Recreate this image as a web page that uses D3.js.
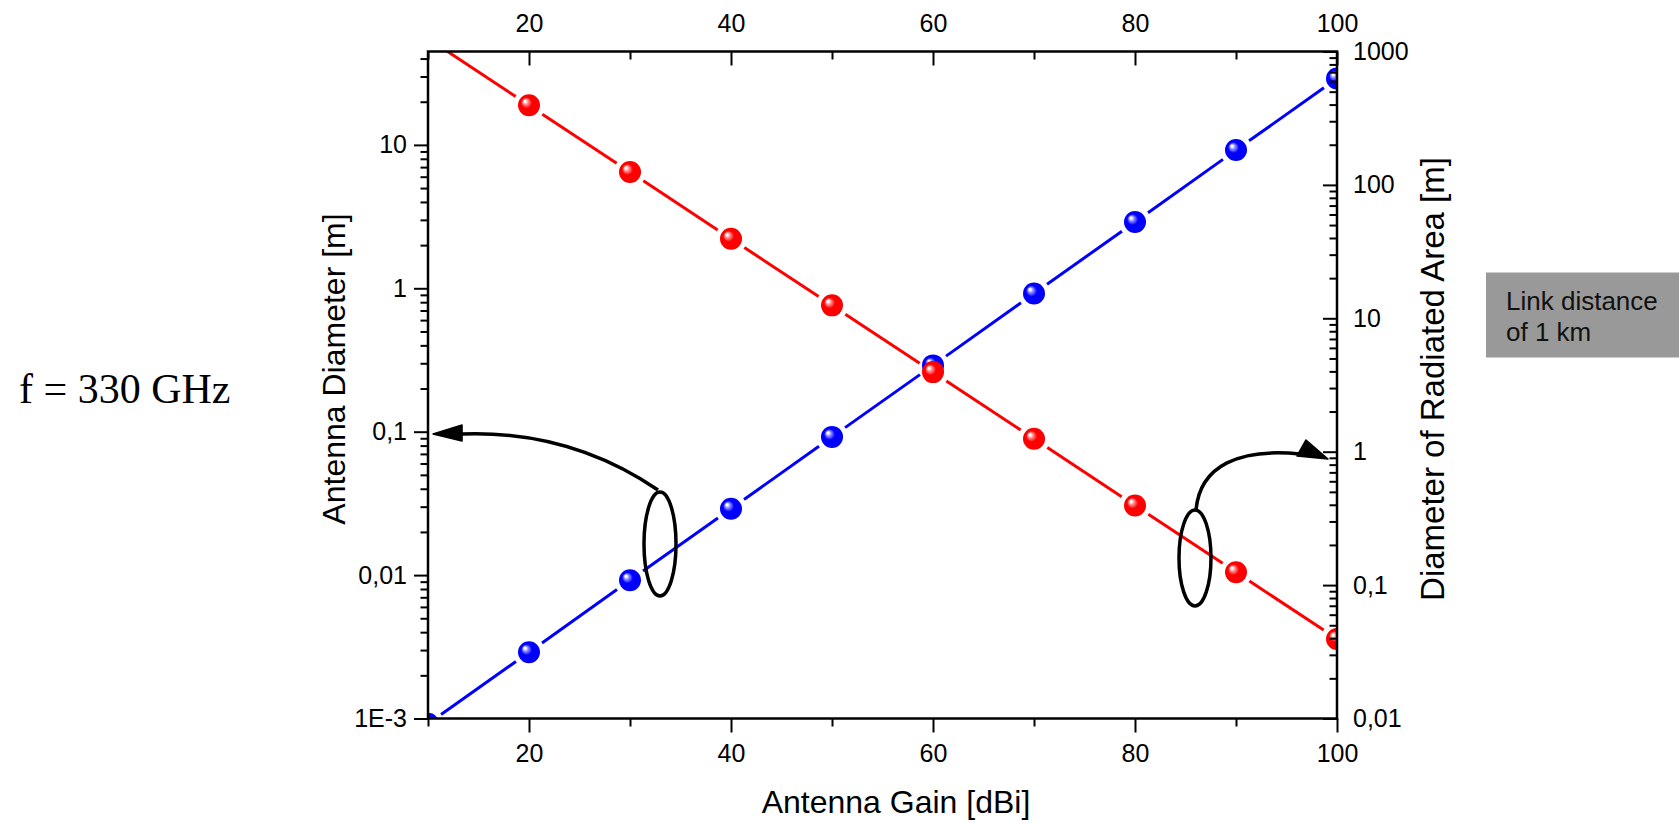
<!DOCTYPE html>
<html>
<head>
<meta charset="utf-8">
<script src="https://cdn.jsdelivr.net/npm/d3@7"></script>
<style>
  html, body { margin: 0; padding: 0; background: #fff; }
  svg { display: block; }
</style>
</head>
<body>
<svg id="chart" width="1679" height="824"></svg>
<script>
// ---------------- data ----------------
const gain = [10, 20, 30, 40, 50, 60, 70, 80, 90, 100];                    // Antenna Gain [dBi]
const antennaDiameter = [0.00092, 0.0029, 0.0092, 0.029, 0.092, 0.29, 0.92, 2.9, 9.2, 29];   // left axis [m]
const radiatedDiameter = [1250, 395, 125, 39.5, 12.5, 3.95, 1.25, 0.395, 0.125, 0.0395];     // right axis [m]

const xMajorTicks = [20, 40, 60, 80, 100];
const xMinorTicks = [10, 30, 50, 70, 90];
const leftMajorTicks = [0.001, 0.01, 0.1, 1, 10];
const leftTickLabels = ["1E-3", "0,01", "0,1", "1", "10"];
const rightMajorTicks = [0.01, 0.1, 1, 10, 100, 1000];
const rightTickLabels = ["0,01", "0,1", "1", "10", "100", "1000"];

const xTitle = "Antenna Gain [dBi]";
const leftTitle = "Antenna Diameter [m]";
const rightTitle = "Diameter of Radiated Area [m]";
const freqLabel = "f = 330 GHz";
const boxLines = ["Link distance", "of 1 km"];

// annotation anchors (data units)
const leftEllipse = { g: 32.97, v: 0.01647 };
const leftArrowCurve = [[32.77, 0.0392], [24.06, 0.1027], [13.37, 0.0964]];
const leftArrowHead = [[10.5, 0.0964], [13.37, 0.1113], [13.37, 0.0861]];
const rightEllipse = { g: 85.94, v: 0.1597 };
const rightArrowCurve = [[86.04, 0.3656], [86.44, 0.795], [90.40, 1.066], [96.34, 0.961]];
const rightArrowHead = [[99.11, 0.8816], [96.93, 1.224], [96.04, 0.9286]];

// ---------------- layout ----------------
const svg = d3.select("#chart");
const L = 428, R = 1337, T = 51.5, B = 718.5;
const SANS = "'Liberation Sans', Arial, Helvetica, sans-serif";
const SERIF = "'Liberation Serif', 'Times New Roman', serif";

const x = d3.scaleLinear().domain([10, 100]).range([L, R]);
const yL = d3.scaleLog().domain([0.001, 44.8]).range([B, T]);
const yR = d3.scaleLog().domain([0.01, 1000]).range([B, T]);

const defs = svg.append("defs");
defs.append("clipPath").attr("id", "plotclip")
  .append("rect").attr("x", L).attr("y", T).attr("width", R - L).attr("height", B - T);

function sphereGrad(id, light, mid, dark) {
  const g = defs.append("radialGradient").attr("id", id)
    .attr("cx", "0.5").attr("cy", "0.5").attr("r", "0.55")
    .attr("fx", "0.3").attr("fy", "0.3");
  g.append("stop").attr("offset", "0").attr("stop-color", "#ffffff");
  g.append("stop").attr("offset", "0.08").attr("stop-color", "#ffffff");
  g.append("stop").attr("offset", "0.2").attr("stop-color", light);
  g.append("stop").attr("offset", "0.45").attr("stop-color", mid);
  g.append("stop").attr("offset", "0.85").attr("stop-color", mid);
  g.append("stop").attr("offset", "1").attr("stop-color", dark);
}
sphereGrad("gradRed", "#ff9a9a", "#ff0000", "#d80000");
sphereGrad("gradBlue", "#9a9aff", "#0000ff", "#0000c8");

const plot = svg.append("g").attr("clip-path", "url(#plotclip)");

function drawSeries(vals, yScale, color, grad) {
  const pts = gain.map((g, i) => [x(g), yScale(vals[i])]);
  const gap = 16;
  const segs = [];
  for (let i = 0; i < pts.length - 1; i++) {
    const [x0, y0] = pts[i], [x1, y1] = pts[i + 1];
    const dx = x1 - x0, dy = y1 - y0, len = Math.hypot(dx, dy);
    const ux = dx / len, uy = dy / len;
    segs.push([[x0 + ux * gap, y0 + uy * gap], [x1 - ux * gap, y1 - uy * gap]]);
  }
  plot.append("g").selectAll("line").data(segs).join("line")
    .attr("x1", d => d[0][0]).attr("y1", d => d[0][1])
    .attr("x2", d => d[1][0]).attr("y2", d => d[1][1])
    .attr("stroke", color).attr("stroke-width", 3).attr("stroke-linecap", "butt");
  plot.append("g").selectAll("circle").data(pts).join("circle")
    .attr("cx", d => d[0]).attr("cy", d => d[1]).attr("r", 11)
    .attr("fill", `url(#${grad})`);
}
drawSeries(antennaDiameter, yL, "#0000ff", "gradBlue");
drawSeries(radiatedDiameter, yR, "#ff0000", "gradRed");

// ---------------- axes ----------------
function minorLog(lo, hi) {
  const out = [];
  for (let e = Math.floor(Math.log10(lo)); e <= Math.ceil(Math.log10(hi)); e++) {
    for (let m = 2; m <= 9; m++) {
      const v = m * Math.pow(10, e);
      if (v > lo && v < hi) out.push(v);
    }
  }
  return out;
}

function styleAxis(g, fontSize) {
  g.select(".domain").remove();
  g.selectAll(".tick line").attr("stroke", "#000").attr("stroke-width", 2);
  g.selectAll(".tick text").attr("fill", "#000")
    .attr("font-family", SANS).attr("font-size", fontSize);
  g.attr("font-family", SANS);
}

// bottom
svg.append("g").attr("transform", `translate(0,${B})`)
  .call(d3.axisBottom(x).tickValues(xMinorTicks).tickSize(8).tickFormat(""))
  .call(g => styleAxis(g, 25));
svg.append("g").attr("transform", `translate(0,${B})`)
  .call(d3.axisBottom(x).tickValues(xMajorTicks).tickSize(14).tickPadding(12).tickFormat(d3.format("d")))
  .call(g => styleAxis(g, 25));
// top (inward ticks)
svg.append("g").attr("transform", `translate(0,${T})`)
  .call(d3.axisTop(x).tickValues(xMinorTicks).tickSize(-8).tickFormat(""))
  .call(g => styleAxis(g, 25));
svg.append("g").attr("transform", `translate(0,${T})`)
  .call(d3.axisTop(x).tickValues(xMajorTicks).tickSize(-14).tickPadding(20).tickFormat(d3.format("d")))
  .call(g => styleAxis(g, 25));
// left (outward)
svg.append("g").attr("transform", `translate(${L},0)`)
  .call(d3.axisLeft(yL).tickValues(minorLog(0.001, 44.8)).tickSize(7.5).tickFormat(""))
  .call(g => styleAxis(g, 25));
svg.append("g").attr("transform", `translate(${L},0)`)
  .call(d3.axisLeft(yL).tickValues(leftMajorTicks).tickSize(14).tickPadding(7)
    .tickFormat((d, i) => leftTickLabels[i]))
  .call(g => styleAxis(g, 25));
// right (inward)
svg.append("g").attr("transform", `translate(${R},0)`)
  .call(d3.axisRight(yR).tickValues(minorLog(0.01, 1000)).tickSize(-7.5).tickFormat(""))
  .call(g => styleAxis(g, 25));
svg.append("g").attr("transform", `translate(${R},0)`)
  .call(d3.axisRight(yR).tickValues(rightMajorTicks).tickSize(-14).tickPadding(16)
    .tickFormat((d, i) => rightTickLabels[i]))
  .call(g => styleAxis(g, 25));

// frame
svg.append("rect").attr("x", L).attr("y", T).attr("width", R - L).attr("height", B - T)
  .attr("fill", "none").attr("stroke", "#000").attr("stroke-width", 2.5);

// titles
svg.append("text").attr("x", 896).attr("y", 813)
  .attr("text-anchor", "middle").attr("font-family", SANS).attr("font-size", 32)
  .text(xTitle);
svg.append("text").attr("transform", "translate(345,369) rotate(-90)")
  .attr("text-anchor", "middle").attr("font-family", SANS).attr("font-size", 32)
  .text(leftTitle);
svg.append("text").attr("transform", "translate(1444,379) rotate(-90)")
  .attr("text-anchor", "middle").attr("font-family", SANS).attr("font-size", 33)
  .text(rightTitle);

svg.append("text").attr("x", 19).attr("y", 403)
  .attr("font-family", SERIF).attr("font-size", 42).text(freqLabel);

// gray box
svg.append("rect").attr("x", 1486).attr("y", 272.5).attr("width", 193).attr("height", 85)
  .attr("fill", "#999999");
svg.append("g").selectAll("text").data(boxLines).join("text")
  .attr("x", 1506).attr("y", (d, i) => 310 + i * 31)
  .attr("font-family", SANS).attr("font-size", 26).attr("fill", "#111")
  .text(d => d);

// ---------------- annotations ----------------
const ann = svg.append("g").attr("fill", "none").attr("stroke", "#000").attr("stroke-width", 3.5);
ann.append("ellipse").attr("cx", x(leftEllipse.g)).attr("cy", yL(leftEllipse.v))
  .attr("rx", 16).attr("ry", 52);
ann.append("ellipse").attr("cx", x(rightEllipse.g)).attr("cy", yR(rightEllipse.v))
  .attr("rx", 16).attr("ry", 48);

const lc = leftArrowCurve.map(([g, v]) => [x(g), yL(v)]);
ann.append("path").attr("d", `M${lc[0]}Q${lc[1]} ${lc[2]}`);
const rc = rightArrowCurve.map(([g, v]) => [x(g), yR(v)]);
ann.append("path").attr("d", `M${rc[0]}C${rc[1]} ${rc[2]} ${rc[3]}`);

svg.append("polygon")
  .attr("points", leftArrowHead.map(([g, v]) => [x(g), yL(v)].join(",")).join(" "))
  .attr("fill", "#000").attr("stroke", "#000").attr("stroke-width", 1.5).attr("stroke-linejoin", "round");
svg.append("polygon")
  .attr("points", rightArrowHead.map(([g, v]) => [x(g), yR(v)].join(",")).join(" "))
  .attr("fill", "#000").attr("stroke", "#000").attr("stroke-width", 1.5).attr("stroke-linejoin", "round");
</script>
</body>
</html>
